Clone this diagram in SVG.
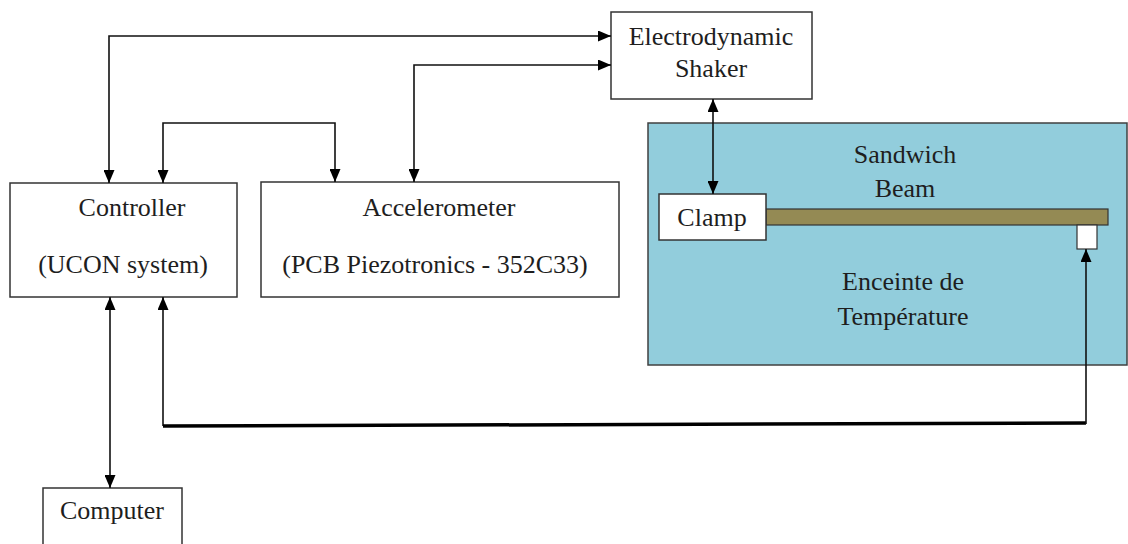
<svg xmlns="http://www.w3.org/2000/svg" width="1128" height="544" viewBox="0 0 1128 544">
<style>
.box{fill:#ffffff;stroke:#333333;stroke-width:1.5}
.t{font-family:'Liberation Serif','Times New Roman','DejaVu Serif',serif;font-size:26px;fill:#1e1e1e;text-anchor:middle}
.c{fill:none;stroke:#111111;stroke-width:1.6}
.thick{fill:none;stroke:#000000;stroke-width:3.5}
</style>
<defs>
<marker id="ah" markerUnits="userSpaceOnUse" markerWidth="13" markerHeight="11" refX="13" refY="5.5" orient="auto-start-reverse" viewBox="0 0 13 11">
<path d="M0,0 L13,5.5 L0,11 z" fill="#000"/>
</marker>
</defs>
<rect width="1128" height="544" fill="#ffffff"/>
<g id="chamber">
<rect x="648" y="123" width="479" height="242" fill="#92cddc" stroke="#404040" stroke-width="1.5"/>
<text class="t" x="905" y="163" font-family="Liberation Serif">Sandwich</text>
<text class="t" x="905" y="197" font-family="Liberation Serif">Beam</text>
<text class="t" x="903" y="290" font-family="Liberation Serif">Enceinte de</text>
<text class="t" x="903" y="325" font-family="Liberation Serif">Température</text>
</g>
<g id="beam">
<rect x="766" y="209" width="342" height="16" fill="#948a54" stroke="#333" stroke-width="1.2"/>
</g>
<g id="sensor">
<rect x="1077" y="225" width="20" height="24" fill="#fff" stroke="#333" stroke-width="1.2"/>
</g>
<g id="clamp">
<rect class="box" x="659" y="194" width="107" height="46"/>
<text class="t" x="712" y="226" font-family="Liberation Serif">Clamp</text>
</g>
<g id="shaker">
<rect class="box" x="611" y="12" width="201" height="87"/>
<text class="t" x="711" y="45" font-family="Liberation Serif">Electrodynamic</text>
<text class="t" x="711" y="77" font-family="Liberation Serif">Shaker</text>
</g>
<g id="controller">
<rect class="box" x="10" y="183" width="227" height="114"/>
<text class="t" x="132" y="216" font-family="Liberation Serif">Controller</text>
<text class="t" x="123" y="273" font-family="Liberation Serif">(UCON system)</text>
</g>
<g id="accelerometer">
<rect class="box" x="261" y="182" width="358" height="115"/>
<text class="t" x="439" y="216" font-family="Liberation Serif">Accelerometer</text>
<text class="t" x="435" y="273" font-family="Liberation Serif">(PCB Piezotronics - 352C33)</text>
</g>
<g id="computer">
<rect class="box" x="43" y="488" width="139" height="70"/>
<text class="t" x="112" y="519" font-family="Liberation Serif">Computer</text>
</g>
<g id="connectors">
<path class="c" d="M109,183 V36 H611" marker-start="url(#ah)" marker-end="url(#ah)"/>
<path class="c" d="M414,182 V65 H611" marker-start="url(#ah)" marker-end="url(#ah)"/>
<path class="c" d="M163,183 V123 H335 V182" marker-start="url(#ah)" marker-end="url(#ah)"/>
<path class="c" d="M713,99 V194" marker-start="url(#ah)" marker-end="url(#ah)"/>
<path class="c" d="M110,297 V488" marker-start="url(#ah)" marker-end="url(#ah)"/>
<path class="c" d="M163,426 V297" marker-end="url(#ah)"/>
<path class="thick" d="M163,426 L1086,423"/>
<path class="c" d="M1086,424 V249" marker-end="url(#ah)"/>
</g>
</svg>
